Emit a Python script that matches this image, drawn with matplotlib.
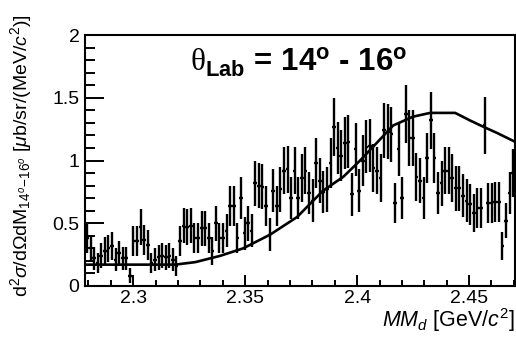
import numpy as np
import matplotlib
matplotlib.use("Agg")
import matplotlib.pyplot as plt
from matplotlib.ticker import MultipleLocator

plt.rcParams["font.family"] = ["Liberation Sans", "DejaVu Sans"]
plt.rcParams["mathtext.fontset"] = "custom"
plt.rcParams["mathtext.rm"] = "Liberation Sans"
plt.rcParams["mathtext.it"] = "Liberation Sans:italic"
plt.rcParams["mathtext.bf"] = "Liberation Sans:bold"
plt.rcParams["mathtext.sf"] = "Liberation Serif"

# Missing-mass histogram range and binning (GeV/c^2)
x_min, x_max = 2.2785, 2.4705
n_bins = 120

# Measured cross section per bin
y_vals = [
    0.38, 0.30, 0.22, 0.18, 0.24, 0.28, 0.30, 0.32, 0.21, 0.26,
    0.22, 0.22, 0.08, 0.36, 0.36, 0.47, 0.37, 0.33, 0.18, 0.21,
    0.23, 0.24, 0.23, 0.24, 0.21, 0.16, 0.36, 0.48, 0.47, 0.48,
    0.38,
    0.38, 0.46, 0.46, 0.38, 0.28, 0.50, 0.38, 0.38, 0.44, 0.64,
    0.64, 0.38, 0.70, 0.42, 0.50, 0.44, 0.82, 0.80, 0.79, 0.64,
    0.41, 0.76, 0.64, 0.77, 0.92, 0.93, 0.70, 0.92,
    0.70, 0.86, 0.92, 0.74, 0.68, 0.98, 0.84, 0.75, 0.77, 0.98,
    1.27, 1.10, 1.04, 1.14, 1.15, 0.73, 1.09, 0.76, 1.00, 1.11,
    1.12, 0.94, 0.92, 0.86, 1.24, 1.23, 1.21, 0.66, 1.09, 0.70,
    1.37, 1.18, 1.18, 0.87, 0.84, 0.70, 1.02, 1.32, 1.02, 0.74,
    0.82, 0.92, 0.92, 0.86, 0.78, 0.78, 0.72, 0.68, 0.65, 0.58,
    0.62, 0.62, 1.28, 0.66, 0.66, 0.67, 0.67, 0.32, 0.52, 0.74,
    0.90,
]

# Statistical uncertainties per bin
y_errs = [
    0.12, 0.11, 0.09, 0.08, 0.10, 0.11, 0.11, 0.11, 0.09, 0.10,
    0.09, 0.09, 0.06, 0.12, 0.12, 0.14, 0.12, 0.12, 0.08, 0.09,
    0.10, 0.10, 0.10, 0.10, 0.09, 0.08, 0.12, 0.14, 0.14, 0.14,
    0.12,
    0.12, 0.14, 0.14, 0.12, 0.11, 0.14, 0.12, 0.12, 0.13, 0.16,
    0.16, 0.12, 0.17, 0.13, 0.14, 0.13, 0.18, 0.18, 0.18, 0.16,
    0.13, 0.17, 0.16, 0.18, 0.19, 0.19, 0.17, 0.19,
    0.17, 0.19, 0.19, 0.17, 0.17, 0.20, 0.18, 0.17, 0.18, 0.20,
    0.23, 0.21, 0.20, 0.21, 0.21, 0.17, 0.21, 0.17, 0.20, 0.21,
    0.21, 0.19, 0.19, 0.19, 0.22, 0.22, 0.22, 0.16, 0.21, 0.17,
    0.23, 0.22, 0.22, 0.19, 0.18, 0.17, 0.20, 0.23, 0.20, 0.17,
    0.18, 0.19, 0.19, 0.19, 0.18, 0.18, 0.17, 0.17, 0.16, 0.15,
    0.16, 0.16, 0.23, 0.16, 0.16, 0.16, 0.16, 0.11, 0.14, 0.17,
    0.19,
]

# Model calculation
curve_x = [2.2786, 2.3187, 2.3277, 2.3388, 2.3491, 2.3612, 2.3732,
           2.3848, 2.3938, 2.4013, 2.4103, 2.4161, 2.4250, 2.4326,
           2.4438, 2.4504, 2.4563, 2.4625, 2.4705]
curve_y = [0.17, 0.17, 0.19, 0.24, 0.30, 0.41, 0.55,
           0.76, 0.87, 1.00, 1.17, 1.28, 1.35, 1.38,
           1.38, 1.32, 1.27, 1.22, 1.15]

edges = np.linspace(x_min, x_max, n_bins + 1)
centers = 0.5 * (edges[:-1] + edges[1:])
half_w = 0.5 * (edges[1] - edges[0])

fig = plt.figure(figsize=(5.16, 3.38), dpi=100)
ax = fig.add_axes([0.165, 0.154, 0.833, 0.742])

ax.errorbar(centers, y_vals, yerr=y_errs, xerr=half_w, fmt="none",
            ecolor="black", elinewidth=1.7, capsize=0)
ax.plot(curve_x, curve_y, color="black", lw=1.9)

ax.set_xlim(x_min, x_max)
ax.set_ylim(0, 2)
ax.xaxis.set_major_locator(MultipleLocator(0.05))
ax.xaxis.set_minor_locator(MultipleLocator(0.01))
ax.yaxis.set_major_locator(MultipleLocator(0.5))
ax.yaxis.set_minor_locator(MultipleLocator(0.1))
ax.xaxis.set_major_formatter(plt.FuncFormatter(lambda v, p: f"{v:g}"))
ax.yaxis.set_major_formatter(plt.FuncFormatter(lambda v, p: f"{v:g}"))

ax.tick_params(axis="both", which="both", direction="in", width=1.4,
               labelsize=14, top=False, right=False)
ax.tick_params(axis="y", which="major", length=14, pad=4)
ax.tick_params(axis="y", which="minor", length=7)
ax.tick_params(axis="x", which="major", length=8, pad=3)
ax.tick_params(axis="x", which="minor", length=4)
for s in ax.spines.values():
    s.set_linewidth(1.5)

ax.text(0.244, 0.853,
        r"$\mathsf{\theta}_{\mathbf{Lab}}$" + r" = 14$^{\mathbf{o}}$ - 16$^{\mathbf{o}}$",
        transform=ax.transAxes, ha="left", va="baseline",
        fontsize=22.5, fontweight="bold")

ax.set_ylabel(r"$\mathrm{d}^{2}\sigma/\mathrm{d}\Omega \mathrm{dM}_{14^{o}\!-\!16^{o}}$"
              r" [$\mu$b/sr/(MeV/$c^{2}$)]", fontsize=14)
ax.yaxis.set_label_coords(-0.118, 0.52)

fig.text(0.997, 0.033, r"$MM_{d}$ [GeV/$c^{2}$]", ha="right", va="baseline",
         fontsize=15.5)

fig.savefig("out.png", dpi=100)
